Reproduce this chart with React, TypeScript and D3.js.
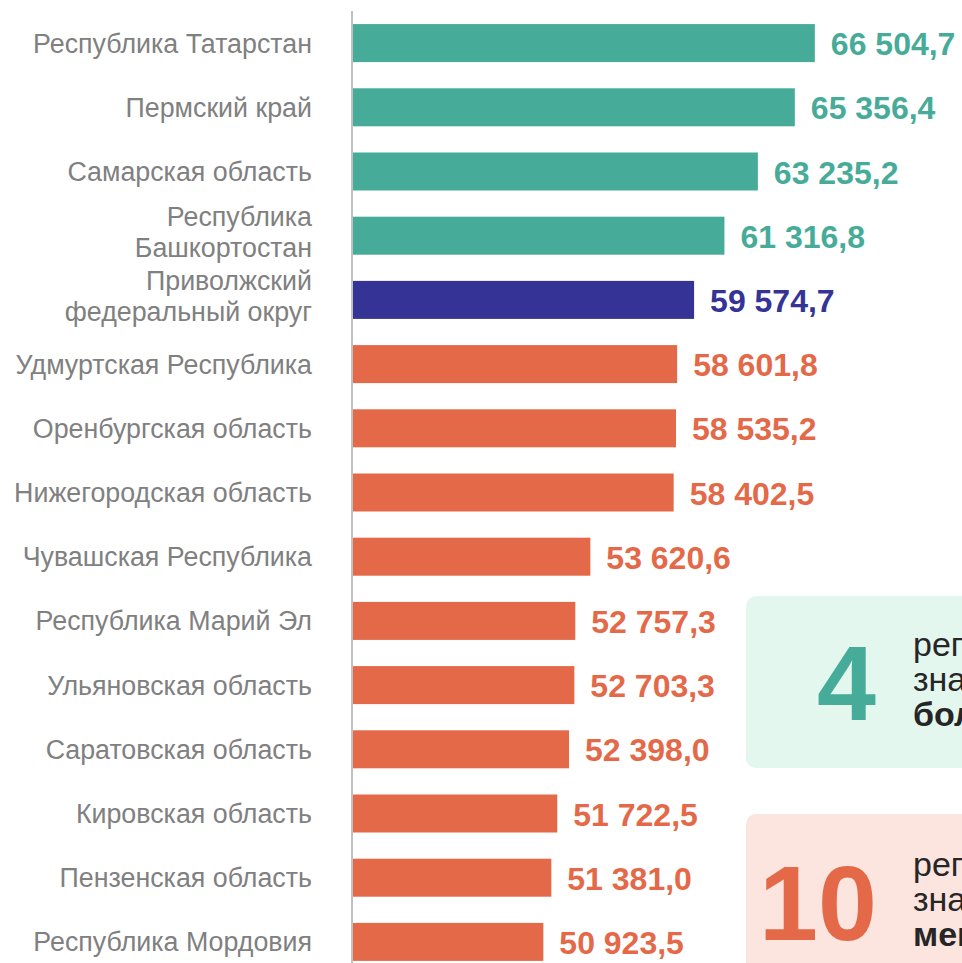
import React from "react";
import * as d3 from "d3";

const regions: string[] = [
  "Республика Татарстан",
  "Пермский край",
  "Самарская область",
  "Республика|Башкортостан",
  "Приволжский|федеральный округ",
  "Удмуртская Республика",
  "Оренбургская область",
  "Нижегородская область",
  "Чувашская Республика",
  "Республика Марий Эл",
  "Ульяновская область",
  "Саратовская область",
  "Кировская область",
  "Пензенская область",
  "Республика Мордовия",
];
const values: number[] = [
  66504.7, 65356.4, 63235.2, 61316.8, 59574.7, 58601.8, 58535.2, 58402.5,
  53620.6, 52757.3, 52703.3, 52398.0, 51722.5, 51381.0, 50923.5,
];
const groups: string[] = [
  "above", "above", "above", "above", "district",
  "below", "below", "below", "below", "below",
  "below", "below", "below", "below", "below",
];
const aboveLines: string[] = ["региона имеют", "значение", "больше среднего"];
const belowLines: string[] = ["регионов имеют", "значение", "меньше среднего"];

const W = 962;
const H = 963;
const colors: Record<string, string> = {
  above: "#46ab98",
  district: "#363396",
  below: "#e36949",
};

const fmt = (v: number) => {
  const s = v.toFixed(1).replace(".", ",");
  const [i, f] = s.split(",");
  return i.replace(/\B(?=(\d{3})+(?!\d))/g, " ") + "," + f;
};

export default function App() {
  const x = d3.scaleLinear().domain([40000, 80000]).range([353, 1050]);
  const y = d3
    .scaleBand<string>()
    .domain(regions)
    .range([11, 974])
    .paddingInner(0.408)
    .paddingOuter(0.204);
  const bw = y.bandwidth();
  const font = "'Liberation Sans', Arial, sans-serif";
  const aboveCount = groups.filter((g) => g === "above").length;
  const belowCount = groups.filter((g) => g === "below").length;

  return (
    <svg
      width={W}
      height={H}
      style={{ position: "absolute", left: 0, top: 0, display: "block" }}
      fontFamily={font}
    >
      <rect width={W} height={H} fill="#ffffff" />
      {regions.map((r, i) => {
        const yc = (y(r) as number) + bw / 2;
        const lines = r.split("|");
        return (
          <g key={r}>
            <rect
              x={x(40000)}
              y={y(r)}
              width={x(values[i]) - x(40000)}
              height={bw}
              fill={colors[groups[i]]}
            />
            <text
              x={x(values[i]) + 16}
              y={yc + 12}
              fontSize={32}
              fontWeight="bold"
              fill={colors[groups[i]]}
            >
              {fmt(values[i])}
            </text>
            <text textAnchor="end" fontSize={26.8} fill="#808080">
              {lines.map((l, k) => (
                <tspan
                  key={k}
                  x={312}
                  y={
                    lines.length === 1
                      ? yc + 9.5
                      : yc + 5.5 + (k - (lines.length - 1) / 2) * 31
                  }
                >
                  {l}
                </tspan>
              ))}
            </text>
          </g>
        );
      })}
      <line x1={352} x2={352} y1={11} y2={H} stroke="#c0c0c0" strokeWidth={2} />

      <rect x={746} y={596} width={240} height={172} rx={10} fill="#e3f7ee" />
      <text x={876} y={720} textAnchor="end" fontSize={106} fontWeight="bold" fill="#46ab98">
        {aboveCount}
      </text>
      {aboveLines.map((l, k) => (
        <text
          key={k}
          x={913}
          y={656 + k * 35}
          fontSize={34}
          fontWeight={k === 2 ? "bold" : "normal"}
          fill="#262626"
        >
          {l}
        </text>
      ))}

      <rect x={746} y={814} width={240} height={172} rx={10} fill="#fce4df" />
      <text x={877} y={940} textAnchor="end" fontSize={106} fontWeight="bold" fill="#e36949">
        {belowCount}
      </text>
      {belowLines.map((l, k) => (
        <text
          key={k}
          x={913}
          y={876 + k * 35}
          fontSize={34}
          fontWeight={k === 2 ? "bold" : "normal"}
          fill="#262626"
        >
          {l}
        </text>
      ))}
    </svg>
  );
}
